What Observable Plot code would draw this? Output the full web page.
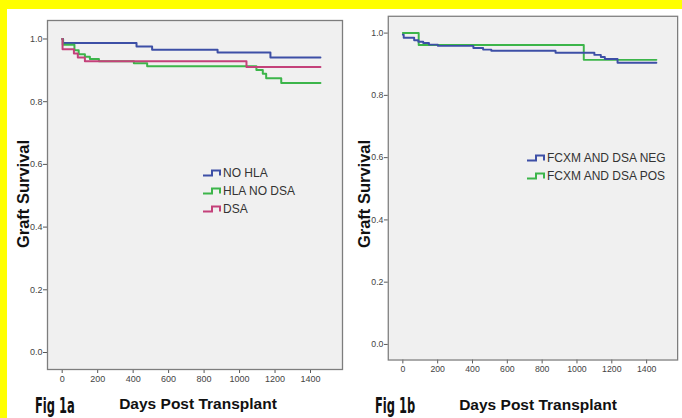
<!DOCTYPE html>
<html>
<head>
<meta charset="utf-8">
<script src="https://cdn.jsdelivr.net/npm/d3@7"></script>
<script src="https://cdn.jsdelivr.net/npm/@observablehq/plot@0.6"></script>
<style>
  html, body { margin: 0; padding: 0; }
  body { width: 682px; height: 418px; overflow: hidden; background: #ffff00; position: relative; font-family: "Liberation Sans", Arial, sans-serif; }
  #panel { position: absolute; left: 7px; top: 9px; width: 675px; height: 409px; background: #ffffff; }
  .plotbox { position: absolute; top: 9px; }
  .ytitle { position: absolute; font-weight: bold; font-size: 16.5px; color: #111; white-space: nowrap; transform: translate(-50%, -50%) rotate(-90deg); }
  .xtitle { position: absolute; font-weight: bold; font-size: 15.5px; color: #111; white-space: nowrap; transform: translateX(-50%); }
  .fig { position: absolute; font-family: "DejaVu Sans Condensed", "Liberation Sans Narrow", sans-serif; font-weight: bold; font-size: 22px; line-height: 1; color: #111; transform-origin: left top; transform: scaleX(0.58); white-space: nowrap; }
  .legend { position: absolute; font-size: 12px; color: #333; }
  .legend .row { display: flex; align-items: center; height: 18px; white-space: nowrap; }
  .legend svg { margin-right: 2px; }
</style>
</head>
<body>
<div id="panel"></div>
<div id="left" class="plotbox" style="left:7px"></div>
<div id="right" class="plotbox" style="left:347px"></div>
<script>
// ---------- data ----------
const xTicks = [0, 200, 400, 600, 800, 1000, 1200, 1400];
const yTicks = [0.0, 0.2, 0.4, 0.6, 0.8, 1.0];

// Fig 1a
const seriesA = ["NO HLA", "HLA NO DSA", "DSA"];
const colorsA = ["#3d4fa6", "#3cb54a", "#c4417a"];
const noHlaDays = [0, 5, 419, 507, 876, 1174, 1456];
const noHlaSurv = [1.0, 0.987, 0.976, 0.966, 0.957, 0.941, 0.941];
const hlaNoDsaDays = [0, 3, 69, 93, 128, 156, 207, 404, 479, 1095, 1131, 1150, 1235, 1456];
const hlaNoDsaSurv = [1.0, 0.982, 0.964, 0.951, 0.943, 0.936, 0.929, 0.923, 0.913, 0.901, 0.889, 0.875, 0.860, 0.860];
const dsaDays = [0, 2, 66, 88, 128, 1039, 1456];
const dsaSurv = [1.0, 0.967, 0.954, 0.941, 0.929, 0.911, 0.911];

// Fig 1b
const seriesB = ["FCXM AND DSA NEG", "FCXM AND DSA POS"];
const colorsB = ["#3d4fa6", "#3cb54a"];
const negDays = [0, 5, 65, 89, 117, 150, 201, 405, 461, 508, 877, 1100, 1137, 1160, 1233, 1456];
const negSurv = [0.995, 0.985, 0.977, 0.972, 0.968, 0.963, 0.959, 0.952, 0.947, 0.943, 0.937, 0.930, 0.923, 0.917, 0.905, 0.905];
const posDays = [0, 91, 1039, 1456];
const posSurv = [1.0, 0.962, 0.914, 0.914];

// ---------- helpers ----------
function rows(name, days, surv) {
  return days.map((d, i) => ({group: name, day: d, surv: surv[i]}));
}

function kmPlot({width, height, margins, xDomain, yDomain, data, order, domain, range}) {
  return Plot.plot({
    width, height,
    marginLeft: margins[0], marginRight: margins[1], marginTop: margins[2], marginBottom: margins[3],
    style: {fontFamily: "'Liberation Sans Narrow', 'Liberation Sans', Arial, sans-serif", fontSize: "9px", color: "#444", background: "transparent", overflow: "visible"},
    x: {domain: xDomain, ticks: xTicks, tickFormat: d3.format("d")},
    y: {domain: yDomain, ticks: yTicks, tickFormat: d3.format(".1f")},
    color: {domain, range},
    marks: [
      Plot.frame({fill: "#f0f0f0", stroke: "none"}),
      Plot.axisX({ticks: xTicks, tickSize: 4, tickPadding: 2, label: null, stroke: "#555", fill: "#444", tickFormat: d3.format("d")}),
      Plot.axisY({ticks: yTicks, tickSize: 4, tickPadding: 1, label: null, stroke: "#555", fill: "#444", tickFormat: d3.format(".1f")}),
      ...order.map(g => Plot.line(data.filter(r => r.group === g), {x: "day", y: "surv", stroke: "group", curve: "step-after", strokeWidth: 2})),
      Plot.frame({stroke: "#7d7d7d", strokeWidth: 1.3})
    ]
  });
}

// ---------- Fig 1a ----------
const dataA = [
  ...rows(seriesA[0], noHlaDays, noHlaSurv),
  ...rows(seriesA[1], hlaNoDsaDays, hlaNoDsaSurv),
  ...rows(seriesA[2], dsaDays, dsaSurv)
];
document.getElementById("left").append(kmPlot({
  width: 340, height: 409, margins: [40, 5, 11, 49],
  xDomain: [-82.9, 1580.4], yDomain: [-0.0542, 1.059],
  data: dataA, order: [seriesA[0], seriesA[1], seriesA[2]], domain: seriesA, range: colorsA
}));

// ---------- Fig 1b ----------
const dataB = [
  ...rows(seriesB[0], negDays, negSurv),
  ...rows(seriesB[1], posDays, posSurv)
];
document.getElementById("right").append(kmPlot({
  width: 345, height: 409, margins: [42, 5, 7, 48],
  xDomain: [-83.7, 1578], yDomain: [-0.050, 1.054],
  data: dataB, order: [seriesB[1], seriesB[0]], domain: seriesB, range: colorsB
}));

// ---------- titles & legends ----------
function addDiv(cls, text, style) {
  const d = document.createElement("div");
  d.className = cls; d.textContent = text;
  Object.assign(d.style, style);
  document.body.append(d);
  return d;
}
addDiv("ytitle", "Graft Survival", {left: "23px", top: "194px"});
addDiv("ytitle", "Graft Survival", {left: "364px", top: "194px"});
addDiv("xtitle", "Days Post Transplant", {left: "198px", top: "395px"});
addDiv("xtitle", "Days Post Transplant", {left: "538px", top: "396px"});
addDiv("fig", "Fig 1a", {left: "35px", top: "395px"});
addDiv("fig", "Fig 1b", {left: "375px", top: "395px"});

function legend(names, colors, left, top) {
  const box = document.createElement("div");
  box.className = "legend";
  box.style.left = left + "px"; box.style.top = top + "px";
  names.forEach((n, i) => {
    const r = document.createElement("div"); r.className = "row";
    r.innerHTML = `<svg width="18" height="10"><path d="M0,7.5H9V2.5H17V7.5" fill="none" stroke="${colors[i]}" stroke-width="2"/></svg><span>${n}</span>`;
    box.append(r);
  });
  document.body.append(box);
}
legend(seriesA, colorsA, 203, 164);
legend(seriesB, colorsB, 527, 149);
</script>
</body>
</html>
